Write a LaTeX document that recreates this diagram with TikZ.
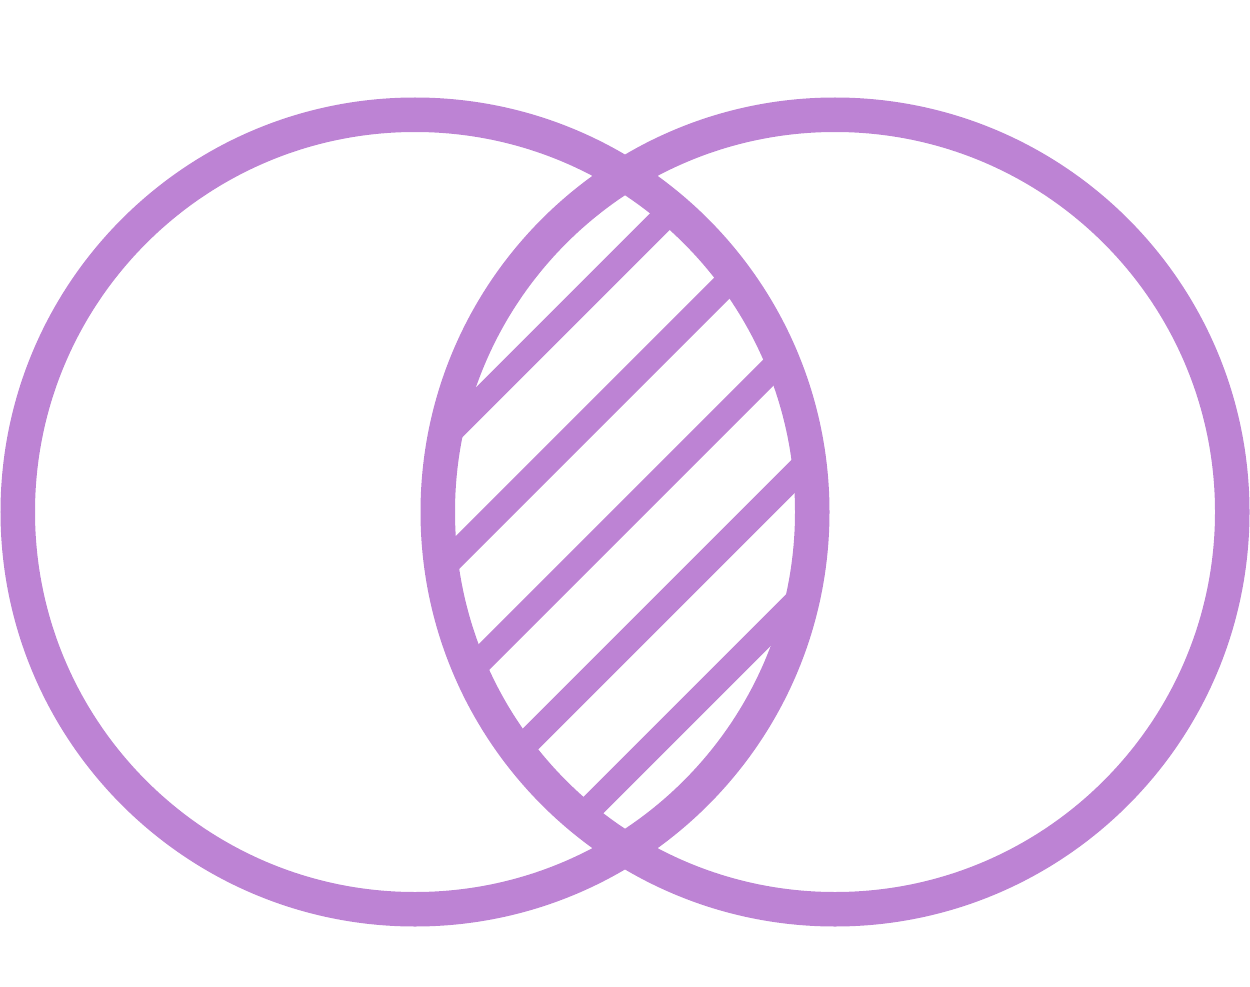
\documentclass[tikz,border=0pt]{standalone}
\definecolor{vp}{RGB}{189,131,212}
\begin{document}
\begin{tikzpicture}[x=1pt,y=-1pt,
  ring/.style={draw=vp,line width=34.5pt},
  stripe/.style={draw=vp,line width=25.5pt}]
\useasboundingbox (0,0) rectangle (1250,987);
\coordinate (L) at (415,512);
\coordinate (R) at (835,512);
\begin{scope}
  \clip (L) circle (397pt);
  \clip (R) circle (397pt);
  \foreach \c in {881.5,1010,1141,1269.5,1398.5}
    \draw[stripe] (300,\c-300) -- (1000,\c-1000);
\end{scope}
\draw[ring] (L) circle (397.25pt);
\draw[ring] (R) circle (397.25pt);
\end{tikzpicture}
\end{document}
